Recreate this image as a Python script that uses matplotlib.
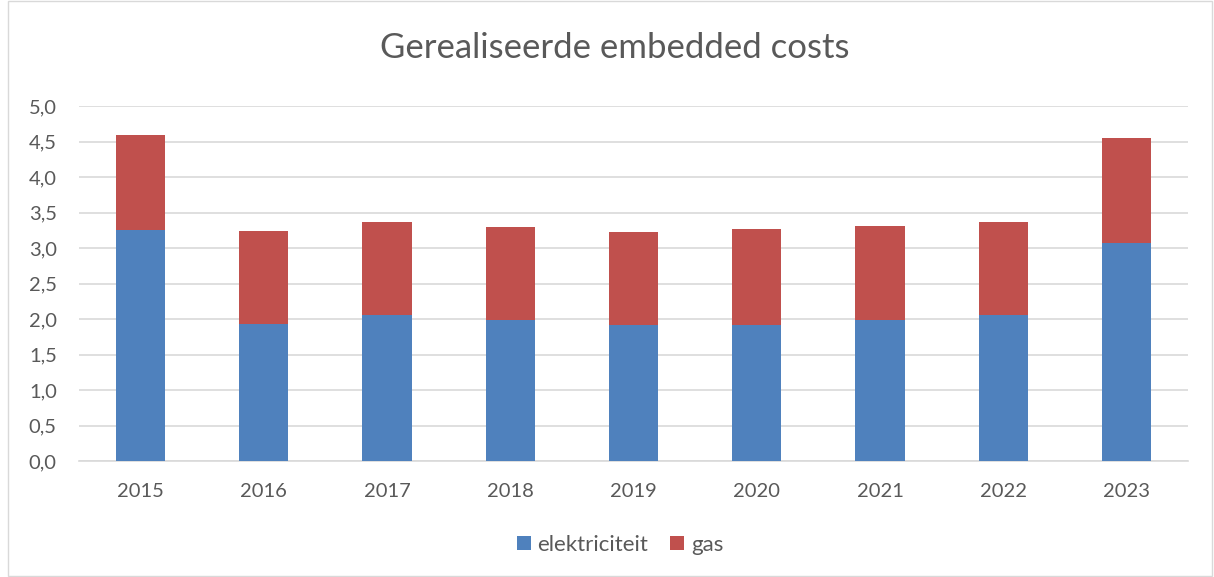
import numpy as np
import matplotlib.pyplot as plt
from matplotlib.patches import Rectangle

# Data
years = ['2015', '2016', '2017', '2018', '2019', '2020', '2021', '2022', '2023']
elektriciteit = [3.26, 1.93, 2.06, 1.99, 1.91, 1.92, 1.99, 2.06, 3.07]
totaal = [4.59, 3.24, 3.37, 3.30, 3.22, 3.27, 3.31, 3.36, 4.55]
gas = [t - e for t, e in zip(totaal, elektriciteit)]

blue = '#4f81bd'
red = '#c0504d'
textcol = '#595959'

plt.rcParams['font.family'] = ['Lato', 'DejaVu Sans']

fig = plt.figure(figsize=(12.14, 5.77), dpi=100)
ax = fig.add_axes([79 / 1214, 1 - 461 / 577, (1188 - 79) / 1214, (461 - 106) / 577])

x = np.arange(len(years))
ax.bar(x, elektriciteit, width=0.4, color=blue, label='elektriciteit', zorder=3)
ax.bar(x, gas, width=0.4, bottom=elektriciteit, color=red, label='gas', zorder=3)

ax.set_xlim(-0.5, len(years) - 0.5)
ax.set_ylim(0, 5)
ax.set_yticks(np.arange(0, 5.01, 0.5))
ax.set_yticklabels([f'{v:.1f}'.replace('.', ',') for v in np.arange(0, 5.01, 0.5)])
ax.set_xticks(x)
ax.set_xticklabels(years)
ax.tick_params(axis='both', length=0, labelsize=14.5, colors=textcol)
ax.tick_params(axis='x', pad=16)
ax.tick_params(axis='y', pad=16)
ax.grid(axis='y', color='#d9d9d9', linewidth=1.2, zorder=0)
for s in ['top', 'right', 'left']:
    ax.spines[s].set_visible(False)
ax.spines['bottom'].set_color('#d9d9d9')
ax.spines['bottom'].set_linewidth(1.2)

fig.text(615 / 1214, 1 - 48 / 577, 'Gerealiseerde embedded costs', ha='center', va='center',
         fontsize=25, color=textcol)

fig.legend(loc='center', bbox_to_anchor=(620 / 1214, 1 - 545 / 577), ncol=2, frameon=False,
           fontsize=16, labelcolor=textcol, handlelength=0.63, handleheight=0.63,
           handletextpad=0.3, columnspacing=1.0)

fig.patches.append(Rectangle((8 / 1214, 0.001), 1 - 10 / 1214, 0.997, transform=fig.transFigure,
                             fill=False, edgecolor='#d9d9d9', linewidth=1))

fig.savefig('out.png', dpi=100)
